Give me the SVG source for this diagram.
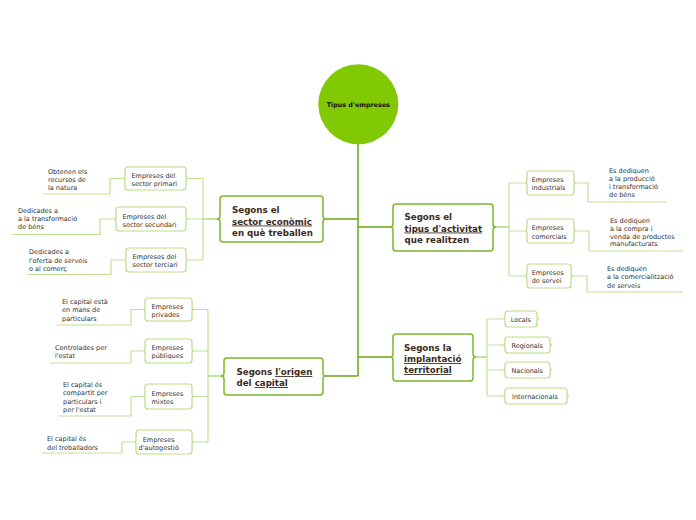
<svg xmlns="http://www.w3.org/2000/svg" width="696" height="520" viewBox="0 0 696 520">
<style>
.bg{fill:#ffffff}
.trunk{fill:none;stroke:#6aa80e;stroke-width:1.5}
.br{fill:none;stroke:#8cc63f;stroke-width:1.2}
.lt{fill:none;stroke:#bfe196;stroke-width:1.2}
.main{fill:#ffffff;stroke:#79b82c;stroke-width:1.5}
.sub{fill:#ffffff;stroke:#b9dd86;stroke-width:1.2}
.mt{font-family:"DejaVu Sans",Verdana,sans-serif;font-weight:bold;font-size:8.7px;fill:#3b2a20}
.st{font-family:"DejaVu Sans",Verdana,sans-serif;font-size:6.5px;fill:#333333}
.lf{font-family:"DejaVu Sans",Verdana,sans-serif;font-size:6.5px;fill:#333333}
.ct{font-family:"DejaVu Sans",Verdana,sans-serif;font-weight:bold;font-size:6.4px;fill:#111111}
.u{text-decoration:underline}
</style>
<rect class="bg" x="0" y="0" width="696" height="520"/>
<g id="connectors">
<path class="trunk" d="M358,143 V376 M326,219 H358 M358,227 H390 M358,357 H390 M326,376 H358"/>
<path class="br" d="M217,219 H203 M496,227 H509 M476,357 H487 M221,376 H208"/>
<path class="lt" d="M203,178.5 V260 M203,178.5 H188 M203,219 H188 M203,260 H188"/>
<path class="lt" d="M509,183 V276 M509,183 H525 M509,231 H525 M509,276 H525"/>
<path class="lt" d="M487,319 V396 M487,319 H503 M487,345 H503 M487,370 H503 M487,396 H503"/>
<path class="lt" d="M208,309.5 V442 M208,309.5 H194 M208,351 H194 M208,396.5 H194 M208,442 H194"/>
<path class="lt" d="M123,178.5 H110 V194 H43 M114,219 H100 V234.5 H12 M124,260 H111 V274.5 H27"/>
<path class="lt" d="M576,183 H588 V202 H666 M576,231 H589 V251 H683 M573,276 H587 V292 H683"/>
<path class="lt" d="M143,309.5 H131 V325 H57 M143,351 H131 V363 H50 M143,396.5 H131 V416 H58 M134,442 H122 V453 H42"/>
</g>
<g id="root">
<circle cx="358.3" cy="104.2" r="40" fill="#80c904"/>
<text class="ct" x="358.3" y="106.7" text-anchor="middle">Tipus d'empreses</text>
</g>
<g id="n1">
<path class="main" d="M223,196 H320 Q323,196 323,199 V216 Q323,219 326,219 Q323,219 323,222 V239 Q323,242 320,242 H223 Q220,242 220,239 V222 Q220,219 217,219 Q220,219 220,216 V199 Q220,196 223,196 Z"/>
<text class="mt" x="232" y="212.5">Segons el</text>
<text class="mt" x="232" y="224.5"><tspan class="u">sector econòmic</tspan></text>
<text class="mt" x="232" y="235.5">en què treballen</text>
</g>
<g id="n1a">
<path class="sub" d="M128,167 H183 Q186,167 186,170 V176.5 Q186,178.5 188,178.5 Q186,178.5 186,180.5 V187 Q186,190 183,190 H128 Q125,190 125,187 V180.5 Q125,178.5 123,178.5 Q125,178.5 125,176.5 V170 Q125,167 128,167 Z"/>
<text class="st" x="131.5" y="177.5">Empreses del</text>
<text class="st" x="131.5" y="185.5">sector primari</text>
<text class="lf" x="48" y="173.5">Obtenen els</text>
<text class="lf" x="48" y="181.5">recursos de</text>
<text class="lf" x="48" y="189.5">la natura</text>
</g>
<g id="n1b">
<path class="sub" d="M119,207 H183 Q186,207 186,210 V217 Q186,219 188,219 Q186,219 186,221 V228 Q186,231 183,231 H119 Q116,231 116,228 V221 Q116,219 114,219 Q116,219 116,217 V210 Q116,207 119,207 Z"/>
<text class="st" x="122.5" y="218.5">Empreses del</text>
<text class="st" x="122.5" y="226.5">sector secundari</text>
<text class="lf" x="18" y="212.5">Dedicades a</text>
<text class="lf" x="18" y="220.8">a la transformació</text>
<text class="lf" x="18" y="229">de béns</text>
</g>
<g id="n1c">
<path class="sub" d="M129,248 H183 Q186,248 186,251 V258 Q186,260 188,260 Q186,260 186,262 V269 Q186,272 183,272 H129 Q126,272 126,269 V262 Q126,260 124,260 Q126,260 126,258 V251 Q126,248 129,248 Z"/>
<text class="st" x="132.5" y="258.5">Empreses del</text>
<text class="st" x="132.5" y="266.5">sector terciari</text>
<text class="lf" x="29" y="254">Dedicades a</text>
<text class="lf" x="29" y="262.5">l'oferta de serveis</text>
<text class="lf" x="29" y="271">o al comerç</text>
</g>
<g id="n2">
<path class="main" d="M396,204 H490 Q493,204 493,207 V224 Q493,227 496,227 Q493,227 493,230 V248 Q493,251 490,251 H396 Q393,251 393,248 V230 Q393,227 390,227 Q393,227 393,224 V207 Q393,204 396,204 Z"/>
<text class="mt" x="404.5" y="220">Segons el</text>
<text class="mt" x="404.5" y="231.5"><tspan class="u">tipus d'activitat</tspan></text>
<text class="mt" x="404.5" y="243">que realitzen</text>
</g>
<g id="n2a">
<path class="sub" d="M530,171 H571 Q574,171 574,174 V181 Q574,183 576,183 Q574,183 574,185 V192 Q574,195 571,195 H530 Q527,195 527,192 V185 Q527,183 525,183 Q527,183 527,181 V174 Q527,171 530,171 Z"/>
<text class="st" x="531.7" y="181.5">Empreses</text>
<text class="st" x="531.7" y="189.5">industrials</text>
<text class="lf" x="609" y="172.5">Es dediquen</text>
<text class="lf" x="609" y="180.8">a la producció</text>
<text class="lf" x="609" y="189">i transformació</text>
<text class="lf" x="609" y="197">de béns</text>
</g>
<g id="n2b">
<path class="sub" d="M530,219 H571 Q574,219 574,222 V229 Q574,231 576,231 Q574,231 574,233 V240 Q574,243 571,243 H530 Q527,243 527,240 V233 Q527,231 525,231 Q527,231 527,229 V222 Q527,219 530,219 Z"/>
<text class="st" x="531.7" y="230">Empreses</text>
<text class="st" x="531.7" y="238.5">comercials</text>
<text class="lf" x="610" y="222.5">Es dediquen</text>
<text class="lf" x="610" y="230.5">a la compra i</text>
<text class="lf" x="610" y="238.5">venda de productes</text>
<text class="lf" x="610" y="246.3">manufacturats</text>
</g>
<g id="n2c">
<path class="sub" d="M530,264 H568 Q571,264 571,267 V274 Q571,276 573,276 Q571,276 571,278 V285 Q571,288 568,288 H530 Q527,288 527,285 V278 Q527,276 525,276 Q527,276 527,274 V267 Q527,264 530,264 Z"/>
<text class="st" x="531.7" y="275">Empreses</text>
<text class="st" x="531.7" y="283">de servei</text>
<text class="lf" x="607" y="271">Es dediquen</text>
<text class="lf" x="607" y="279.3">a la comercialització</text>
<text class="lf" x="607" y="287.5">de serveis</text>
</g>
<g id="n3">
<path class="main" d="M396,334 H470 Q473,334 473,337 V354 Q473,357 476,357 Q473,357 473,360 V378 Q473,381 470,381 H396 Q393,381 393,378 V360 Q393,357 390,357 Q393,357 393,354 V337 Q393,334 396,334 Z"/>
<text class="mt" x="404" y="351">Segons la</text>
<text class="mt" x="404" y="362"><tspan class="u">implantació</tspan></text>
<text class="mt" x="404" y="373"><tspan class="u">territorial</tspan></text>
</g>
<g id="n3a">
<path class="sub" d="M508,311 H534 Q537,311 537,314 V317 Q537,319 539,319 Q537,319 537,321 V324 Q537,327 534,327 H508 Q505,327 505,324 V321 Q505,319 503,319 Q505,319 505,317 V314 Q505,311 508,311 Z"/>
<text class="st" x="510.7" y="321.5">Locals</text>
</g>
<g id="n3b">
<path class="sub" d="M508,337 H547 Q550,337 550,340 V343 Q550,345 552,345 Q550,345 550,347 V350 Q550,353 547,353 H508 Q505,353 505,350 V347 Q505,345 503,345 Q505,345 505,343 V340 Q505,337 508,337 Z"/>
<text class="st" x="511.5" y="347.5">Regionals</text>
</g>
<g id="n3c">
<path class="sub" d="M508,362 H547 Q550,362 550,365 V368 Q550,370 552,370 Q550,370 550,372 V375 Q550,378 547,378 H508 Q505,378 505,375 V372 Q505,370 503,370 Q505,370 505,368 V365 Q505,362 508,362 Z"/>
<text class="st" x="511.5" y="372.5">Nacionals</text>
</g>
<g id="n3d">
<path class="sub" d="M508,388 H564 Q567,388 567,391 V394 Q567,396 569,396 Q567,396 567,398 V401 Q567,404 564,404 H508 Q505,404 505,401 V398 Q505,396 503,396 Q505,396 505,394 V391 Q505,388 508,388 Z"/>
<text class="st" x="512" y="398.5">Internacionals</text>
</g>
<g id="n4">
<path class="main" d="M227,358 H320 Q323,358 323,361 V373 Q323,376 326,376 Q323,376 323,379 V392 Q323,395 320,395 H227 Q224,395 224,392 V379 Q224,376 221,376 Q224,376 224,373 V361 Q224,358 227,358 Z"/>
<text class="mt" x="236.5" y="375">Segons <tspan class="u">l'origen</tspan></text>
<text class="mt" x="236.5" y="386">del <tspan class="u">capital</tspan></text>
</g>
<g id="n4a">
<path class="sub" d="M148,298 H189 Q192,298 192,301 V307.5 Q192,309.5 194,309.5 Q192,309.5 192,311.5 V318 Q192,321 189,321 H148 Q145,321 145,318 V311.5 Q145,309.5 143,309.5 Q145,309.5 145,307.5 V301 Q145,298 148,298 Z"/>
<text class="st" x="151.5" y="309">Empreses</text>
<text class="st" x="151.5" y="317">privades</text>
<text class="lf" x="62" y="303.5">El capital està</text>
<text class="lf" x="62" y="312">en mans de</text>
<text class="lf" x="62" y="320.5">particulars</text>
</g>
<g id="n4b">
<path class="sub" d="M148,339 H189 Q192,339 192,342 V349 Q192,351 194,351 Q192,351 192,353 V360 Q192,363 189,363 H148 Q145,363 145,360 V353 Q145,351 143,351 Q145,351 145,349 V342 Q145,339 148,339 Z"/>
<text class="st" x="151.5" y="349.5">Empreses</text>
<text class="st" x="151.5" y="357.5">públiques</text>
<text class="lf" x="55" y="349.5">Controlades per</text>
<text class="lf" x="55" y="358">l'estat</text>
</g>
<g id="n4c">
<path class="sub" d="M148,384 H189 Q192,384 192,387 V394.5 Q192,396.5 194,396.5 Q192,396.5 192,398.5 V406 Q192,409 189,409 H148 Q145,409 145,406 V398.5 Q145,396.5 143,396.5 Q145,396.5 145,394.5 V387 Q145,384 148,384 Z"/>
<text class="st" x="151.5" y="395.5">Empreses</text>
<text class="st" x="151.5" y="404">mixtes</text>
<text class="lf" x="63" y="386.5">El capital és</text>
<text class="lf" x="63" y="395">compartit per</text>
<text class="lf" x="63" y="403.5">particulars i</text>
<text class="lf" x="63" y="411.5">per l'estat</text>
</g>
<g id="n4d">
<path class="sub" d="M139,430 H189 Q192,430 192,433 V440 Q192,442 194,442 Q192,442 192,444 V451 Q192,454 189,454 H139 Q136,454 136,451 V444 Q136,442 134,442 Q136,442 136,440 V433 Q136,430 139,430 Z"/>
<text class="st" x="142.7" y="441.5">Empreses</text>
<text class="st" x="138.5" y="450">d'autogestió</text>
<text class="lf" x="47" y="441">El capital és</text>
<text class="lf" x="47" y="449.5">del treballadors</text>
</g>
</svg>
